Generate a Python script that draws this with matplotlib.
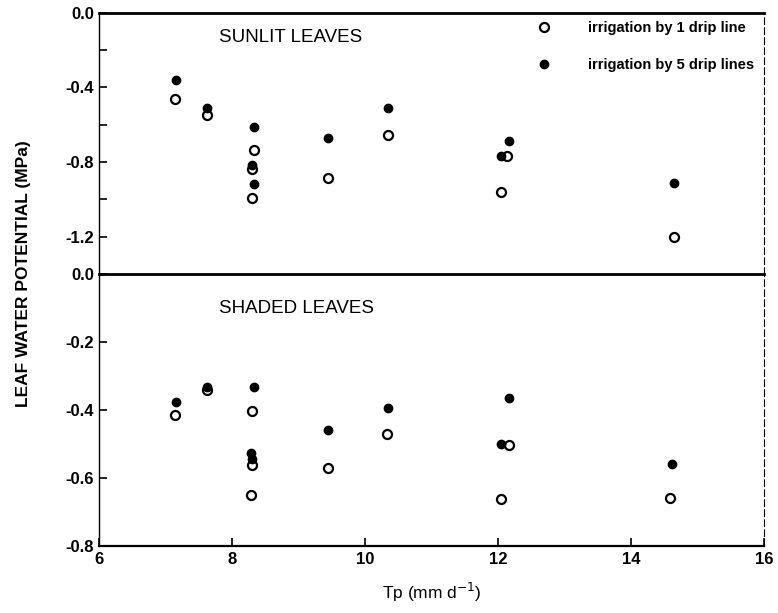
import matplotlib.pyplot as plt
from matplotlib.ticker import MultipleLocator

plt.rcParams['font.family'] = ['Liberation Sans', 'DejaVu Sans']

# sunlit leaves (top panel)
sun_x_1 = [7.15, 7.62, 8.33, 8.31, 8.30, 9.44, 10.35, 12.14, 12.04, 14.65]
sun_y_1 = [-0.46, -0.545, -0.735, -0.835, -0.99, -0.885, -0.655, -0.77, -0.96, -1.20]
sun_x_5 = [7.16, 7.62, 8.33, 8.30, 8.33, 9.44, 10.35, 12.16, 12.05, 14.65]
sun_y_5 = [-0.36, -0.51, -0.61, -0.815, -0.92, -0.67, -0.51, -0.685, -0.765, -0.91]

# shaded leaves (bottom panel)
sha_x_1 = [7.15, 7.62, 8.31, 8.31, 8.29, 9.44, 10.33, 12.16, 12.05, 14.58]
sha_y_1 = [-0.415, -0.34, -0.403, -0.562, -0.65, -0.569, -0.469, -0.502, -0.66, -0.659]
sha_x_5 = [7.16, 7.62, 8.33, 8.29, 8.30, 9.44, 10.35, 12.16, 12.05, 14.61]
sha_y_5 = [-0.376, -0.331, -0.331, -0.525, -0.545, -0.459, -0.395, -0.363, -0.50, -0.559]

legend_labels = ['irrigation by 1 drip line', 'irrigation by 5 drip lines']

fig = plt.figure(figsize=(7.78, 6.13), dpi=100)
ax1 = fig.add_axes([0.127, 0.553, 0.855, 0.426])
ax2 = fig.add_axes([0.127, 0.109, 0.855, 0.444])

for ax in (ax1, ax2):
    ax.set_xlim(6, 16)
    ax.spines['right'].set_linestyle((0, (6, 3)))
    ax.spines['right'].set_linewidth(0.8)
    ax.spines['left'].set_linewidth(1.0)
    ax.spines['top'].set_linewidth(2.0)
    ax.spines['bottom'].set_linewidth(1.6)
    ax.tick_params(direction='in', length=6, width=1.2, labelsize=12, right=False, top=False)

kw_open = dict(ls='none', marker='o', ms=6.5, mfc='white', mec='black', mew=1.6)
kw_fill = dict(ls='none', marker='o', ms=6, mfc='black', mec='black')

ax1.plot(sun_x_1, sun_y_1, label=legend_labels[0], **kw_open)
ax1.plot(sun_x_5, sun_y_5, label=legend_labels[1], **kw_fill)
ax1.set_ylim(-1.4, 0)
ax1.yaxis.set_minor_locator(MultipleLocator(0.2))
ax1.tick_params(axis='y', which='minor', direction='in', length=6, width=1.2)
ax1.set_yticks([0.0, -0.4, -0.8, -1.2])
ax1.set_yticklabels(['0.0', '-0.4', '-0.8', '-1.2'], fontweight='bold')
ax1.set_xticks([])
ax1.spines['bottom'].set_visible(False)
ax1.text(0.18, 0.905, 'SUNLIT LEAVES', transform=ax1.transAxes, fontsize=13.5, va='center')
ax1.legend(loc='upper right', bbox_to_anchor=(1.005, 1.02), frameon=False,
           handletextpad=2.0, labelspacing=1.6, prop=dict(weight='bold', size=10.5))

ax2.plot(sha_x_1, sha_y_1, **kw_open)
ax2.plot(sha_x_5, sha_y_5, **kw_fill)
ax2.set_ylim(-0.8, 0)
ax2.set_yticks([0.0, -0.2, -0.4, -0.6, -0.8])
ax2.set_yticklabels(['0.0', '-0.2', '-0.4', '-0.6', '-0.8'], fontweight='bold')
ax2.set_xticks([6, 8, 10, 12, 14, 16])
ax2.set_xticklabels(['6', '8', '10', '12', '14', '16'], fontweight='bold')
ax2.tick_params(axis='x', pad=4)
ax2.text(0.18, 0.875, 'SHADED LEAVES', transform=ax2.transAxes, fontsize=13.5, va='center')
ax2.set_xlabel('Tp (mm d$^{-1}$)', fontsize=12.5, labelpad=10)

fig.text(0.03, 0.553, 'LEAF WATER POTENTIAL (MPa)', rotation=90, fontsize=12.5,
         fontweight='bold', ha='center', va='center')

fig.savefig('out.png', dpi=100)
